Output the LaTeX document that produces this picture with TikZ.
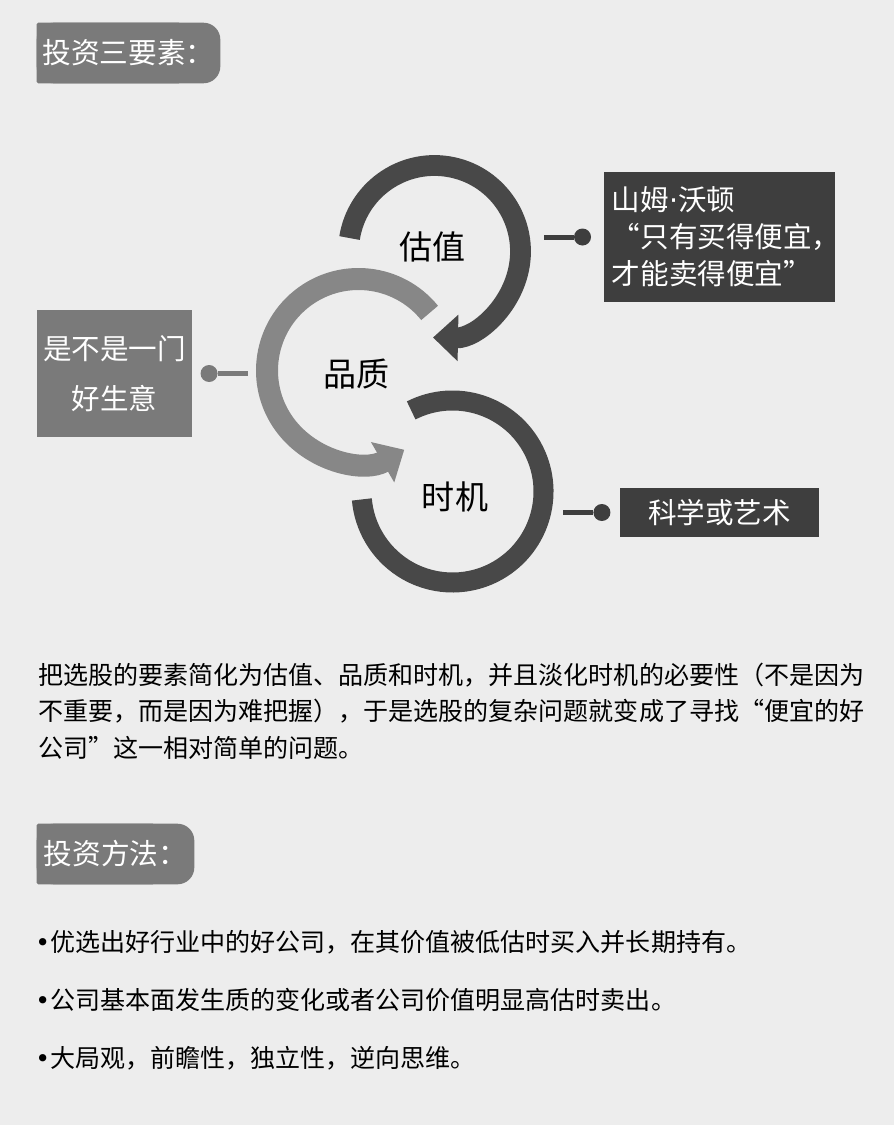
\documentclass[tikz,border=0pt]{standalone}
\usepackage{fontspec}
\setmainfont{Noto Sans CJK SC}
\newfontfamily\symfont{DejaVu Sans}
\usetikzlibrary{positioning, arrows.meta, backgrounds}
\definecolor{pagegray}{RGB}{237, 237, 237}
\definecolor{taggray}{RGB}{122, 122, 122}
\definecolor{boxdark}{RGB}{62, 62, 62}
\definecolor{ringdark}{RGB}{72, 72, 72}
\definecolor{ringlight}{RGB}{135, 135, 135}
\newcommand{\dotmark}{\makebox[0.6em][c]{\symfont •}}

\begin{document}
\begin{tikzpicture}[x=0.025cm, y=0.025cm,
    tagbox/.style={text=white, inner sep=0pt, minimum height=1.5cm, font=\fontsize{20.4}{24}\selectfont},
    darkbox/.style={fill=boxdark, text=white, inner sep=0pt, font=\fontsize{20.3}{26.3}\selectfont},
    ringline/.style={line width=0.52cm},
    ringtip/.style={-{Triangle[length=0.625cm, width=1.125cm]}},
    ringlabel/.style={font=\fontsize{23.5}{28}\selectfont},
    pinhead/.style={circle, fill, inner sep=0pt, minimum size=0.425cm},
    pinline/.style={line width=0.125cm},
    bodytext/.style={anchor=west, align=left, inner sep=0pt}]
  \useasboundingbox (0,0) rectangle (894,-1125);

  % section headers
  \node[tagbox, minimum width=4.575cm] (tagfactors) at (128.5,-53) {投资三要素：};
  \node[tagbox, minimum width=3.925cm] (tagmethod) at (115.5,-854) {投资方法：};

  % three rings
  \coordinate (valring) at (434.5,-251.5);
  \coordinate (qualring) at (358.5,-370.5);
  \coordinate (timering) at (452.5,-491.5);
  \draw[ringline, ringlight, line width=0.55cm, ringtip] ([shift={(39:91.5)}]qualring) arc[start angle=39, end angle=300, radius=91.5];
  \draw[ringline, ringdark, ringtip] ([shift={(171:86)}]valring) arc[start angle=171, end angle=-91, radius=86];
  \draw[ringline, ringdark, line width=0.5cm] ([shift={(117:91)}]timering) arc[start angle=117, end angle=-175, radius=91];

  \node[ringlabel] (valuation) at (432.5,-247) {估值};
  \node[ringlabel] (quality) at (356.5,-374) {品质};
  \node[ringlabel] (timing) at (455,-496.5) {时机};

  % side boxes
  \node[fill=taggray, text=white, inner sep=0pt, minimum width=3.875cm, minimum height=3.175cm,
        align=center, font=\fontsize{20.3}{35.6}\selectfont] (goodbiz) at (114.5,-373.5) {是不是一门\\好生意};
  \node[darkbox, minimum width=5.775cm, minimum height=3.25cm, text width=5.375cm, align=left] (walton) at (719.5,-237)
    {山姆{\symfont ·}沃顿\\“只有买得便宜，\\才能卖得便宜”};
  \node[darkbox, minimum width=4.975cm, minimum height=1.225cm] (artsci) at (719.5,-512.5) {科学或艺术};

  % pins
  \node[pinhead, taggray, right=0.2cm of goodbiz] (bizpin) {};
  \coordinate[right=0.75cm of bizpin] (biztail);
  \draw[pinline, taggray] (bizpin) -- (biztail);

  \node[pinhead, boxdark, left=0.31cm of walton] (waltonpin) {};
  \coordinate[left=0.74cm of waltonpin] (waltontail);
  \draw[pinline, boxdark] (waltontail) -- (waltonpin);

  \node[pinhead, boxdark, left=0.225cm of artsci] (artpin) {};
  \coordinate[left=0.75cm of artpin] (arttail);
  \draw[pinline, boxdark] (arttail) -- (artpin);

  % text blocks
  \node[bodytext, font=\fontsize{17.8}{25.8}\selectfont] (summary) at (38,-711)
    {把选股的要素简化为估值、品质和时机，并且淡化时机的必要性（不是因为\\
     不重要，而是因为难把握），于是选股的复杂问题就变成了寻找“便宜的好\\
     公司”这一相对简单的问题。};
  \node[bodytext, font=\fontsize{17.8}{41.3}\selectfont] (methods) at (35,-1000)
    {\dotmark 优选出好行业中的好公司，在其价值被低估时买入并长期持有。\\
     \dotmark 公司基本面发生质的变化或者公司价值明显高估时卖出。\\
     \dotmark 大局观，前瞻性，独立性，逆向思维。};

  \begin{scope}[on background layer]
    \fill[pagegray] (0,0) rectangle (894,-1125);
    \foreach \t in {tagfactors, tagmethod} {
      \fill[taggray, rounded corners=0.42cm] (\t.south west) rectangle (\t.north east);
      \fill[taggray, rounded corners=1pt] (\t.south west) rectangle ([xshift=-1cm]\t.north east);
    }
  \end{scope}
\end{tikzpicture}
\end{document}
